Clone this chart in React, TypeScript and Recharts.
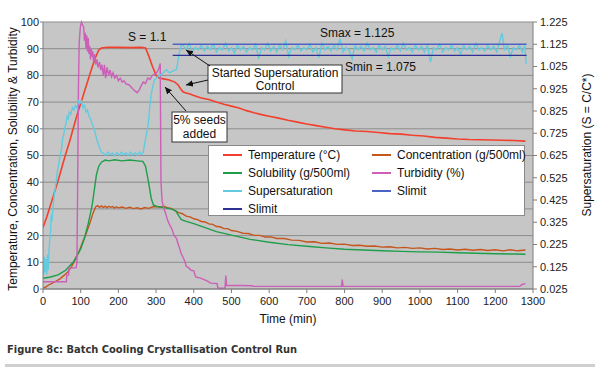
import React from 'react';
import { ComposedChart, Line, XAxis, YAxis, CartesianGrid, Legend } from 'recharts';

const FONT = '"Liberation Sans", Arial, Helvetica, sans-serif';

const timeTicks = [0, 100, 200, 300, 400, 500, 600, 700, 800, 900, 1000, 1100, 1200, 1300];
const leftTicks = [0, 10, 20, 30, 40, 50, 60, 70, 80, 90, 100];
const rightTicks = [0.025, 0.075, 0.125, 0.175, 0.225, 0.275, 0.325, 0.375, 0.425, 0.475, 0.525, 0.575, 0.625,
  0.675, 0.725, 0.775, 0.825, 0.875, 0.925, 0.975, 1.025, 1.075, 1.125, 1.175, 1.225];

const temperature: [number, number][] = [
  [0, 23], [10, 27], [20, 31.5], [30, 36], [40, 40.5], [50, 45.5], [60, 50.5], [70, 55], [80, 60], [90, 65],
  [100, 69.5], [110, 74], [120, 78.5], [130, 83], [140, 87], [148, 89.5], [155, 90.3], [170, 90.5], [200, 90.5],
  [230, 90.4], [260, 90.5], [272, 90.3], [280, 87.5], [290, 83.5], [300, 80], [308, 79], [320, 78.7], [335, 78.3],
  [350, 77.5], [358, 76.5], [365, 75], [372, 73.8], [380, 73.4], [390, 73], [400, 72.5], [420, 71.5], [440, 71],
  [460, 70], [480, 69.2], [500, 68.5], [520, 67.8], [540, 66.8], [560, 66], [580, 65.3], [600, 64.7], [625, 64],
  [650, 63.2], [675, 62.5], [700, 61.8], [725, 61.2], [750, 60.6], [775, 60], [800, 59.6], [830, 59.2], [860, 59],
  [890, 58.6], [920, 58.2], [950, 58], [980, 57.6], [1010, 57.3], [1040, 56.8], [1070, 56.5], [1100, 56.2],
  [1130, 56], [1160, 55.9], [1190, 55.8], [1220, 55.7], [1250, 55.6], [1280, 55.4],
];

const concentration: [number, number][] = [
  [0, 0.3], [8, 0.8], [15, 1.5], [25, 2.2], [35, 3], [45, 3.8], [55, 5], [65, 6.3], [75, 8.2], [85, 10.8], [95, 13.8],
  [105, 17.5], [115, 21], [125, 25], [133, 28.5], [140, 30.8], [145, 31.2], [150, 30.6], [155, 31.1], [160, 30.5],
  [165, 31], [170, 30.4], [175, 31], [180, 30.6], [185, 30.9], [190, 30.3], [195, 30.8], [200, 30.4], [210, 30.7],
  [220, 30.2], [230, 30.6], [240, 30.1], [250, 30.4], [260, 30], [270, 30.5], [280, 30.2], [290, 30.7], [300, 30.9],
  [310, 30.6], [320, 31], [330, 30.5], [340, 30.2], [350, 29.4], [360, 28.6], [370, 28.2], [380, 27.3], [390, 27],
  [400, 26.3], [410, 26], [420, 25.3], [430, 25.1], [440, 24.4], [450, 24.2], [460, 23.4], [470, 23.3], [480, 22.6],
  [490, 22.6], [500, 21.9], [515, 21.6], [530, 20.9], [545, 20.8], [560, 20.1], [575, 20.1], [590, 19.5], [605, 19.5],
  [620, 18.9], [640, 18.9], [660, 18.3], [680, 18.2], [700, 17.6], [720, 17.7], [740, 17.1], [760, 17.2], [780, 16.7],
  [800, 16.8], [820, 16.3], [840, 16.4], [860, 16], [880, 16.1], [900, 15.7], [920, 15.8], [940, 15.4], [960, 15.6],
  [980, 15.2], [1000, 15.4], [1020, 15], [1040, 15.2], [1060, 14.8], [1080, 15], [1100, 14.6], [1120, 14.9],
  [1140, 14.5], [1160, 14.8], [1180, 14.4], [1200, 14.7], [1220, 14.3], [1240, 14.7], [1260, 14.3], [1280, 14.6],
];

const solubility: [number, number][] = [
  [0, 4], [20, 4.5], [40, 5.3], [60, 7], [80, 10], [100, 15], [110, 19], [120, 24.5], [130, 31], [137, 38], [142, 43],
  [148, 46], [155, 47.5], [165, 48.3], [175, 48], [190, 48.4], [210, 48], [230, 48.3], [250, 48], [265, 47.8],
  [272, 46], [280, 40], [287, 34], [293, 31.5], [300, 31], [320, 30.5], [340, 30], [352, 29.3], [360, 27.5],
  [367, 26], [380, 25.3], [400, 24.5], [430, 23], [460, 21.5], [500, 20.2], [550, 18.6], [600, 17.5], [650, 16.6],
  [700, 16], [750, 15.4], [800, 14.9], [850, 14.6], [900, 14.3], [950, 14.1], [1000, 13.9], [1050, 13.8],
  [1100, 13.6], [1150, 13.4], [1200, 13.2], [1250, 13.1], [1280, 13],
];

const turbidity: [number, number][] = [
  [0, 2.7], [62, 2.7], [63, 5.2], [68, 5.2], [69, 7.8], [88, 8], [90, 10], [92, 40], [94, 75], [96, 92], [99, 98],
  [102, 100], [105, 99], [108, 98], [110, 93], [112, 96], [114, 90], [116, 95], [118, 89], [120, 94], [122, 88],
  [124, 91], [126, 86], [128, 90], [130, 87], [132, 89], [134, 85], [137, 88], [140, 84], [143, 86], [146, 83],
  [150, 85], [153, 82], [156, 84], [160, 80], [163, 84], [166, 79], [170, 83], [174, 80], [178, 82], [182, 79.5],
  [186, 81], [190, 79], [195, 80], [200, 78], [205, 79], [210, 77.5], [215, 78], [220, 76.8], [228, 76.5],
  [236, 75.3], [244, 74.2], [250, 73.5], [255, 74.5], [260, 76], [266, 77.5], [272, 77], [278, 79], [284, 78.5],
  [290, 80], [296, 80.5], [302, 81], [307, 82.5], [311, 84.5], [313, 40], [316, 33], [320, 30.5], [325, 28.5],
  [330, 26], [336, 24], [342, 22.5], [348, 20], [354, 19], [358, 17], [362, 15.5], [366, 13.5], [371, 12],
  [376, 10.5], [380, 8.5], [386, 8], [393, 7], [400, 6.8], [405, 4.5], [420, 4], [435, 3], [445, 2.2], [462, 2],
  [464, 0.3], [483, 0.3], [485, 5], [487, 1.3], [520, 1.3], [555, 1.2], [558, 1], [792, 1], [794, 3.5], [796, 1],
  [1265, 1], [1272, 1.8], [1280, 2],
];

const supersaturation: [number, number][] = [
  [0, 0.14], [2, 0.09], [4, 0.17], [6, 0.1], [8, 0.16], [10, 0.09], [12, 0.18], [14, 0.11], [16, 0.2], [18, 0.25],
  [20, 0.28], [22, 0.36], [24, 0.33], [26, 0.38], [28, 0.42], [30, 0.45], [32, 0.47], [34, 0.5], [36, 0.52],
  [38, 0.55], [40, 0.57], [43, 0.6], [46, 0.63], [49, 0.65], [52, 0.7], [55, 0.72], [58, 0.75], [61, 0.77],
  [64, 0.8], [67, 0.79], [70, 0.82], [74, 0.81], [78, 0.84], [82, 0.83], [86, 0.85], [90, 0.84], [94, 0.87],
  [98, 0.86], [102, 0.87], [106, 0.84], [110, 0.85], [114, 0.82], [118, 0.83], [122, 0.8], [126, 0.79], [130, 0.77],
  [134, 0.75], [138, 0.73], [142, 0.7], [146, 0.68], [150, 0.66], [155, 0.64], [160, 0.635], [166, 0.625],
  [172, 0.64], [178, 0.628], [184, 0.636], [190, 0.624], [196, 0.638], [202, 0.626], [208, 0.64], [214, 0.627],
  [220, 0.637], [226, 0.625], [232, 0.64], [238, 0.628], [244, 0.636], [250, 0.626], [256, 0.64], [262, 0.63],
  [266, 0.64], [272, 0.7], [279, 0.76], [283, 0.84], [287, 0.9], [292, 0.94], [296, 0.965], [302, 0.975],
  [310, 0.985], [318, 0.995], [327, 1.01], [336, 0.996], [345, 1.005], [354, 1.012], [358, 1.05], [362, 1.09],
  [367, 1.12], [372, 1.12], [380, 1.1], [388, 1.13], [396, 1.09], [404, 1.11], [412, 1.1], [420, 1.12], [428, 1.095],
  [436, 1.115], [444, 1.1], [452, 1.125], [460, 1.09], [468, 1.11], [476, 1.1], [484, 1.13], [492, 1.095],
  [500, 1.11], [508, 1.085], [516, 1.12], [524, 1.1], [532, 1.115], [540, 1.09], [548, 1.11], [556, 1.1],
  [564, 1.125], [572, 1.06], [580, 1.11], [588, 1.1], [596, 1.13], [604, 1.095], [612, 1.115], [620, 1.09],
  [628, 1.12], [636, 1.1], [644, 1.14], [652, 1.07], [660, 1.11], [668, 1.1], [676, 1.12], [684, 1.095],
  [692, 1.11], [700, 1.1], [708, 1.125], [716, 1.09], [724, 1.11], [732, 1.065], [740, 1.13], [748, 1.1],
  [756, 1.115], [764, 1.095], [772, 1.12], [780, 1.1], [788, 1.15], [796, 1.09], [804, 1.11], [812, 1.1],
  [820, 1.06], [828, 1.12], [836, 1.1], [844, 1.115], [852, 1.095], [860, 1.13], [868, 1.1], [876, 1.11],
  [884, 1.09], [892, 1.12], [900, 1.1], [908, 1.115], [916, 1.07], [924, 1.11], [932, 1.1], [940, 1.12],
  [948, 1.095], [956, 1.13], [964, 1.1], [972, 1.11], [980, 1.09], [988, 1.12], [996, 1.1], [1004, 1.115],
  [1012, 1.09], [1020, 1.12], [1028, 1.045], [1036, 1.11], [1044, 1.1], [1052, 1.125], [1060, 1.09], [1068, 1.11],
  [1076, 1.1], [1084, 1.12], [1092, 1.095], [1100, 1.11], [1108, 1.08], [1116, 1.12], [1124, 1.1], [1132, 1.115],
  [1140, 1.09], [1148, 1.13], [1156, 1.1], [1164, 1.11], [1172, 1.095], [1180, 1.12], [1188, 1.1], [1196, 1.115],
  [1204, 1.09], [1212, 1.14], [1218, 1.175], [1224, 1.1], [1232, 1.12], [1240, 1.07], [1248, 1.11], [1256, 1.1],
  [1264, 1.12], [1272, 1.09], [1278, 1.12], [1282, 1.035],
];

const slimitUpper: [number, number][] = [[344, 1.125], [1283, 1.125]];
const slimitLower: [number, number][] = [[344, 1.075], [1283, 1.075]];

const seriesNames = ['Temperature (°C)', 'Concentration (g/500ml)', 'Solubility (g/500ml)', 'Turbidity (%)',
  'Supersaturation', 'Slimit', 'Slimit'];
const seriesColors = ['#f2402c', '#c4561e', '#1e9e4a', '#cc5fb8', '#62cbe0', '#4d63c4', '#2e3192'];
const seriesAxis = ['left', 'left', 'left', 'left', 'right', 'right', 'right'];
const seriesData = [temperature, concentration, solubility, turbidity, supersaturation, slimitUpper, slimitLower];

const toPts = (arr: [number, number][]) => arr.map(([t, v]) => ({ t, v }));

const renderLegend = () => {
  const rowTops = [9, 27, 45, 63];
  return (
    <div style={{ width: 317, height: 71, background: '#fff', border: '1px solid #8a8a8a', boxSizing: 'border-box',
      position: 'relative', fontFamily: FONT, fontSize: 12, color: '#111' }}>
      {seriesNames.map((name, i) => {
        const col = i % 2;
        const row = Math.floor(i / 2);
        return (
          <div key={i} style={{ position: 'absolute', left: col ? 163 : 14, top: rowTops[row] - 8, height: 16,
            display: 'flex', alignItems: 'center', whiteSpace: 'nowrap' }}>
            <span style={{ display: 'inline-block', width: 19, height: 2, background: seriesColors[i], marginRight: 6 }} />
            <span>{name}</span>
          </div>
        );
      })}
    </div>
  );
};

const tickStyle = { fontSize: 11, fill: '#222', fontFamily: FONT };
const axisColor = '#7f7f7f';

export default function App() {
  return (
    <div style={{ position: 'absolute', left: 0, top: 0, width: 600, height: 372, background: '#fff', fontFamily: FONT }}>
      <div style={{ position: 'absolute', left: 0, top: 0 }}>
        <ComposedChart width={600} height={330} margin={{ top: 22, right: 0, bottom: 11, left: 0 }}>
          <CartesianGrid yAxisId="left" vertical={false} stroke="#8c8c8c" fill="#c6c6c6" fillOpacity={1} />
          <XAxis dataKey="t" type="number" domain={[0, 1300]} ticks={timeTicks} height={30}
            tick={tickStyle} tickSize={4} tickMargin={4} stroke={axisColor} allowDataOverflow />
          <YAxis yAxisId="left" type="number" domain={[0, 100]} ticks={leftTicks} width={43}
            tick={tickStyle} tickSize={3} tickMargin={1} stroke={axisColor} />
          <YAxis yAxisId="right" orientation="right" type="number" domain={[0.025, 1.225]} ticks={rightTicks}
            width={67} tick={tickStyle} tickSize={4} tickMargin={3} stroke={axisColor}
            tickFormatter={(v: number) => v.toFixed(3)} allowDataOverflow />
          {seriesData.map((d, i) => (
            <Line key={i} yAxisId={seriesAxis[i]} data={toPts(d)} dataKey="v" name={seriesNames[i]}
              type="linear" stroke={seriesColors[i]} strokeWidth={i === 0 ? 1.6 : 1.4} dot={false}
              activeDot={false} isAnimationActive={false} />
          ))}
          <Legend layout="horizontal" verticalAlign="middle" align="center" content={renderLegend}
            wrapperStyle={{ left: 208, top: 145, width: 317, height: 71 }} />
        </ComposedChart>
      </div>
      <svg width={600} height={372} style={{ position: 'absolute', left: 0, top: 0, pointerEvents: 'none' }}
        fontFamily={FONT}>
        <defs>
          <marker id="ah" markerWidth="8" markerHeight="8" refX="7" refY="4" orient="auto" markerUnits="userSpaceOnUse">
            <path d="M0,0.8 L7,4 L0,7.2 Z" fill="#111" />
          </marker>
        </defs>
        <text x={128} y={41} fontSize={12} fill="#111">S = 1.1</text>
        <text x={320} y={37} fontSize={12} fill="#111">Smax = 1.125</text>
        <rect x={208} y={65} width={134} height={28} fill="#fff" stroke="#333" strokeWidth={1} />
        <text x={345} y={71} fontSize={12} fill="#111">Smin = 1.075</text>
        <text x={275} y={77} fontSize={12} fill="#111" textAnchor="middle">Started Supersaturation</text>
        <text x={275} y={90} fontSize={12} fill="#111" textAnchor="middle">Control</text>
        <line x1={210} y1={66} x2={186} y2={50} stroke="#111" strokeWidth={1} markerEnd="url(#ah)" />
        <line x1={208} y1={80} x2={186} y2={85} stroke="#111" strokeWidth={1} markerEnd="url(#ah)" />
        <rect x={172} y={112} width={55} height={30} fill="#fff" stroke="#333" strokeWidth={1} />
        <text x={199.5} y={124} fontSize={12} fill="#111" textAnchor="middle">5% seeds</text>
        <text x={199.5} y={138} fontSize={12} fill="#111" textAnchor="middle">added</text>
        <line x1={186} y1={111} x2={165} y2={87} stroke="#111" strokeWidth={1} markerEnd="url(#ah)" />
        <text transform="translate(13,159) rotate(-90)" textAnchor="middle" dominantBaseline="central"
          fontSize={12} fill="#111">Temperature, Concentration, Solubility &amp; Turbidity</text>
        <text transform="translate(587,145) rotate(-90)" textAnchor="middle" dominantBaseline="central"
          fontSize={12} fill="#111">Supersaturation (S = C/C*)</text>
        <text x={288} y={319} textAnchor="middle" dominantBaseline="central" fontSize={12} fill="#111">Time (min)</text>
      </svg>
      <div style={{ position: 'absolute', left: 7, top: 343, fontFamily: '"DejaVu Sans Condensed", "Liberation Sans Narrow", sans-serif',
        fontWeight: 'bold', fontSize: 11, lineHeight: '14px', color: '#333', whiteSpace: 'nowrap' }}>
        Figure 8c: Batch Cooling Crystallisation Control Run
      </div>
      <div style={{ position: 'absolute', left: 5, top: 364, width: 590, height: 3, background: '#cfcfcf' }} />
    </div>
  );
}
